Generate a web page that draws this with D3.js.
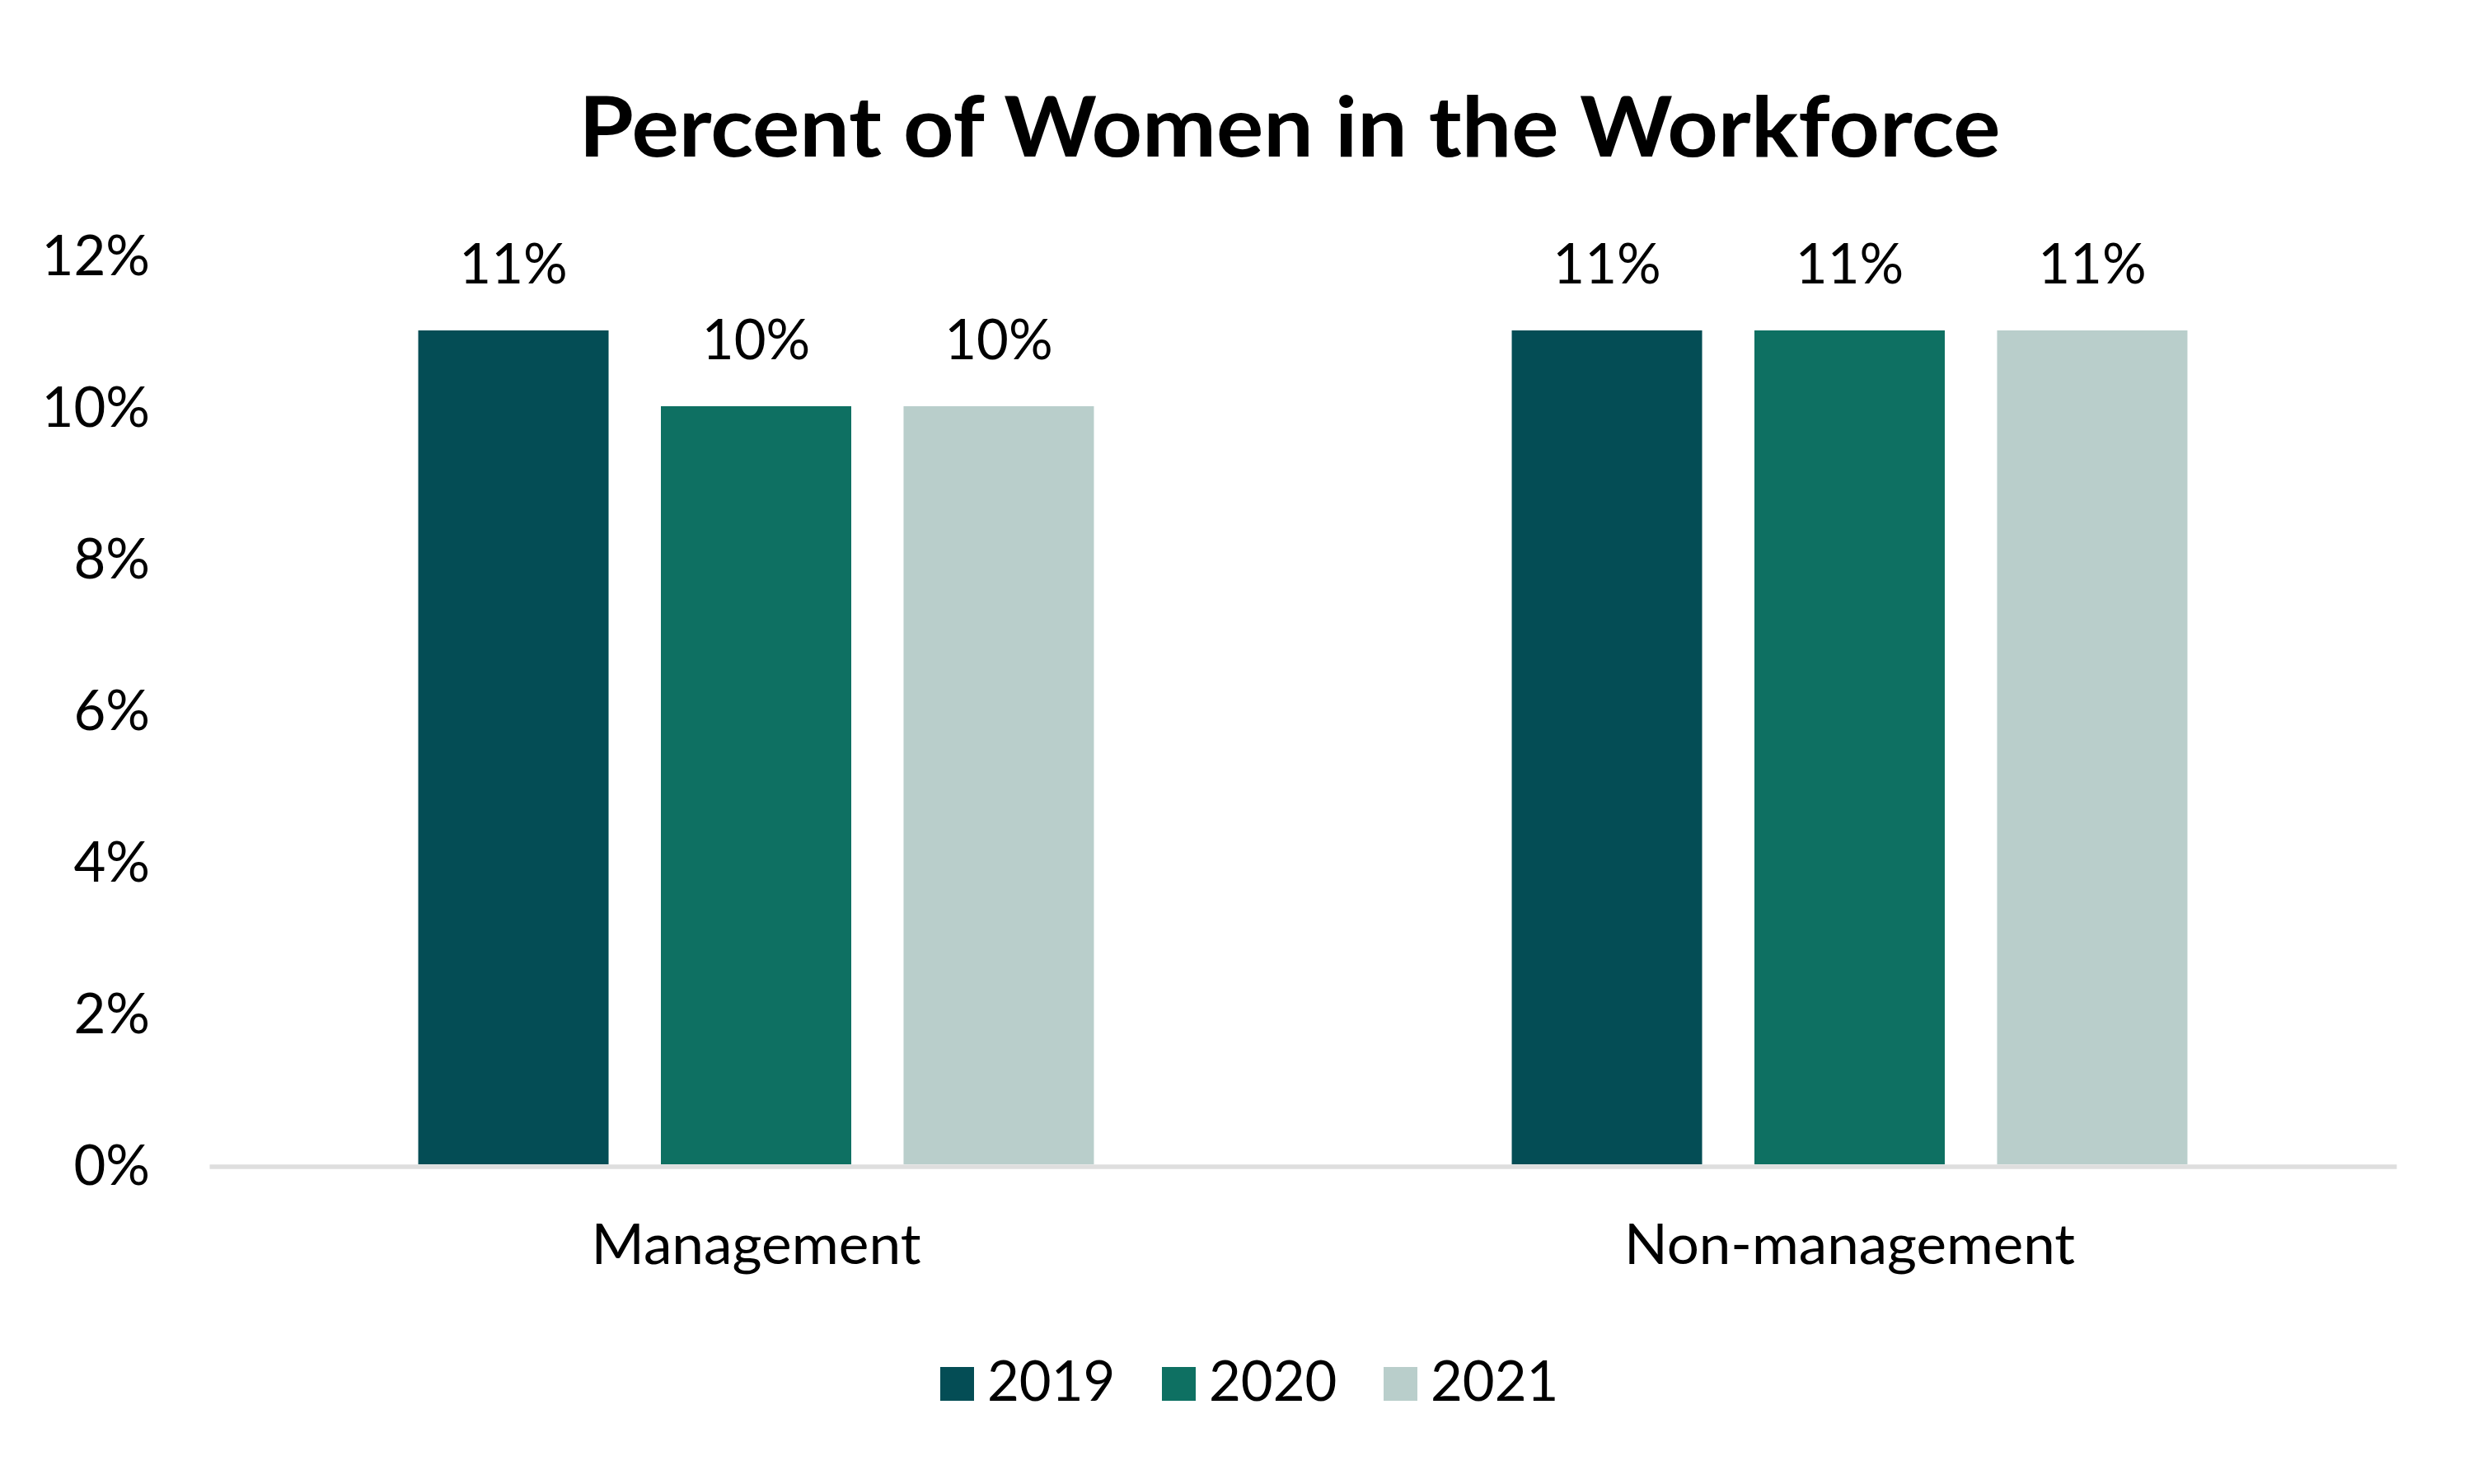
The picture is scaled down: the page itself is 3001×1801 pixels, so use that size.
<!DOCTYPE html>
<html>
<head>
<meta charset="utf-8">
<script src="https://cdn.jsdelivr.net/npm/d3@7"></script>
<style>
  html, body { margin: 0; padding: 0; background: #ffffff; }
  svg { display: block; }
  text { font-family: "Lato", "Open Sans", "DejaVu Sans", sans-serif; fill: #000000; }
</style>
</head>
<body>
<svg id="chart" width="3001" height="1801"></svg>
<script>
// ---- data ----
const categories = ["Management", "Non-management"];
const years = ["2019", "2020", "2021"];
const values2019 = [11, 11];
const values2020 = [10, 11];
const values2021 = [10, 11];
const yTicks = [0, 2, 4, 6, 8, 10, 12];
const yTickLabels = ["0%", "2%", "4%", "6%", "8%", "10%", "12%"];
const seriesColors = ["#044d55", "#0e7062", "#b9cecb"];
const titleText = "Percent of Women in the Workforce";

const seriesValues = [values2019, values2020, values2021];
const rows = [];
categories.forEach((c, ci) => {
  years.forEach((yr, si) => rows.push({ category: c, year: yr, value: seriesValues[si][ci], si }));
});

const W = 3001, H = 1801;
const plot = { left: 254, right: 2908, top: 309, bottom: 1413 };

const svg = d3.select("#chart");
svg.append("rect").attr("width", W).attr("height", H).attr("fill", "#ffffff");

const x0 = d3.scaleBand().domain(categories).range([plot.left, plot.right]).paddingInner(0).paddingOuter(0);
const x1 = d3.scaleBand().domain(years).range([0, x0.bandwidth()]).paddingInner(0.2156).paddingOuter(0.861);
const y = d3.scaleLinear().domain([0, 12]).range([plot.bottom, plot.top]);
const color = d3.scaleOrdinal().domain(years).range(seriesColors);

// title
svg.append("text")
  .attr("x", 1565).attr("y", 190)
  .attr("text-anchor", "middle")
  .attr("font-size", 101).attr("font-weight", 700)
  .attr("textLength", 1725).attr("lengthAdjust", "spacingAndGlyphs")
  .text(titleText);

// y axis (labels only)
const yAxis = d3.axisLeft(y).tickValues(yTicks).tickSize(0).tickPadding(0)
  .tickFormat((d, i) => yTickLabels[i]);
const yg = svg.append("g").attr("transform", `translate(182,0)`).call(yAxis);
yg.select(".domain").remove();
yg.selectAll("text")
  .attr("font-size", 67)
  .attr("font-family", "Lato, 'Open Sans', sans-serif")
  .attr("fill", "#000")
  .attr("dy", "0.36em");

// bars
svg.append("g").selectAll("rect").data(rows).join("rect")
  .attr("x", d => x0(d.category) + x1(d.year))
  .attr("y", d => y(d.value))
  .attr("width", x1.bandwidth())
  .attr("height", d => y(0) - y(d.value))
  .attr("fill", d => color(d.year));

// x axis line
const catLabelWidths = [400, 547];
const xAxis = d3.axisBottom(x0).tickSize(0).tickPadding(0);
const xg = svg.append("g").attr("transform", `translate(0,${y(0) + 2.5})`).call(xAxis);
xg.select(".domain").attr("stroke", "#dedede").attr("stroke-width", 5.5);
xg.selectAll("text")
  .attr("font-size", 67)
  .attr("font-family", "Lato, 'Open Sans', sans-serif")
  .attr("fill", "#000")
  .attr("dy", 0)
  .attr("y", 118.5)
  .attr("textLength", (d, i) => catLabelWidths[i])
  .attr("lengthAdjust", "spacingAndGlyphs");

// data labels
svg.append("g").selectAll("text").data(rows).join("text")
  .attr("x", d => x0(d.category) + x1(d.year) + x1.bandwidth() / 2)
  .attr("y", d => y(d.value) - 57)
  .attr("text-anchor", "middle")
  .attr("font-size", 67)
  .text(d => d.value + "%");

// legend
const legendX = d3.scaleOrdinal().domain(years).range([1141, 1410, 1679]);
const lg = svg.append("g").selectAll("g").data(years).join("g")
  .attr("transform", d => `translate(${legendX(d)},1659)`);
lg.append("rect").attr("width", 41).attr("height", 41).attr("fill", d => color(d));
lg.append("text").attr("x", 57).attr("y", 41).attr("font-size", 67).text(d => d);
</script>
</body>
</html>
